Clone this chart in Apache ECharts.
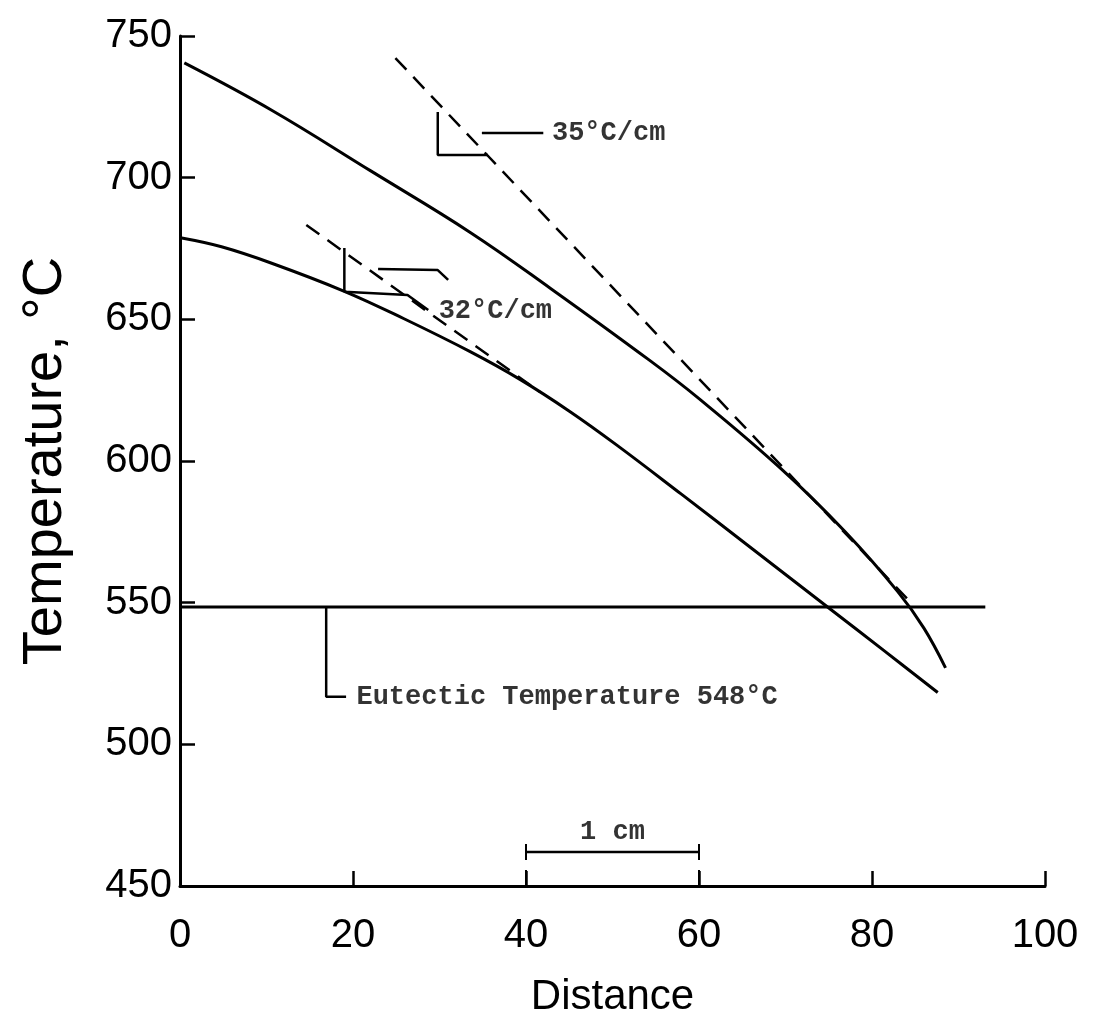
<!DOCTYPE html>
<html>
<head>
<meta charset="utf-8">
<script src="https://cdn.jsdelivr.net/npm/echarts@6/dist/echarts.min.js"></script>
<style>
  html, body { margin: 0; background: #fff; }
  #chart { width: 1104px; height: 1034px; }
</style>
</head>
<body>
<div id="chart"></div>
<script>
// curves: [distance, temperature]
const upperCurve = [[0.5, 740.5], [10.6, 723.8], [22.1, 702.3], [33.6, 680.6], [42.8, 661.0], [54.3, 635.5], [60.0, 622.0], [69.5, 597.2], [76.9, 575.0], [83.0, 553.8], [86.0, 541.0], [88.5, 527]];
const lowerCurve = [[0.2, 678.7], [4.8, 675.6], [10.6, 669.8], [19.0, 659.9], [25.9, 650.2], [33.6, 638.5], [39.3, 628.8], [45.1, 617.4], [50.5, 605.6], [58.0, 588.2], [65.7, 570.1], [74.9, 548.4], [81.5, 532.8], [87.6, 518.3]];
const eutecticLine = [[0, 548.5], [93.1, 548.5]];
const tangent35 = [[24.9, 742.2], [84.5, 550]];
const tangent32 = [[14.6, 683.3], [41.6, 624.4]];

// leader lines for the notes
const note35Slope = [[29.8, 723.2], [29.8, 708.0], [35.6, 708.0]];
const note35Leader = [[34.9, 715.8], [42.0, 715.8]];
const note32Slope = [[19.0, 675.2], [19.0, 659.7], [26.3, 658.6], [28.7, 653.3]];
const note32Leader = [[22.9, 667.8], [29.8, 667.4], [31.0, 663.9]];
const eutecticLeader = [[16.9, 548.5], [16.9, 516.8], [19.2, 516.8]];
const scaleBar = [[40, 462], [60, 462]];
const scaleLeft = [[40, 450], [40, 467]];
const scaleRight = [[60, 450], [60, 467]];

const notes = [
  [43.0, 715.8, '35°C/cm'],
  [29.9, 653.0, '32°C/cm'],
  [20.4, 516.8, 'Eutectic Temperature 548°C']
];
const scaleNote = [[50, 462, '1 cm']];

const xTicks = [0, 20, 40, 60, 80, 100];
const yTicks = [450, 500, 550, 600, 650, 700, 750];

const chart = echarts.init(document.getElementById('chart'));

const solid = (data, width) => ({
  type: 'line', data: data, symbol: 'none', silent: true,
  lineStyle: { color: '#000', width: width }
});
const dashed = (data, width) => ({
  type: 'line', data: data, symbol: 'none', silent: true,
  lineStyle: { color: '#000', width: width, type: [16, 10] }
});

const noteFont = { fontFamily: 'Liberation Mono', fontWeight: 'bold', fontSize: 27, color: '#000' };

chart.setOption({
  animation: false,
  backgroundColor: '#fff',
  grid: { left: 180, right: 59, top: 36, bottom: 148 },
  xAxis: {
    type: 'value', min: xTicks[0], max: xTicks[xTicks.length - 1], interval: 20,
    name: 'Distance', nameLocation: 'middle', nameGap: 90,
    nameTextStyle: { fontFamily: 'Liberation Sans', fontSize: 42, color: '#000' },
    axisLine: { lineStyle: { color: '#000', width: 3 } },
    axisTick: { inside: true, length: 15, lineStyle: { color: '#000', width: 2.5 } },
    axisLabel: { fontFamily: 'Liberation Sans', fontSize: 40, color: '#000', margin: 30 },
    splitLine: { show: false }
  },
  yAxis: {
    type: 'value', min: yTicks[0], max: yTicks[yTicks.length - 1], interval: 50,
    name: 'Temperature, °C', nameLocation: 'middle', nameGap: 106, nameRotate: 90,
    nameTextStyle: { fontFamily: 'Liberation Sans', fontSize: 56, color: '#000' },
    axisLine: { show: true, lineStyle: { color: '#000', width: 3 } },
    axisTick: { show: true, inside: true, length: 15, lineStyle: { color: '#000', width: 2.5 } },
    axisLabel: { fontFamily: 'Liberation Sans', fontSize: 40, color: '#000', margin: 8 },
    splitLine: { show: false }
  },
  series: [
    Object.assign(solid(upperCurve, 3), { smooth: 0.4 }),
    Object.assign(solid(lowerCurve, 3), { smooth: 0.4 }),
    solid(eutecticLine, 3),
    dashed(tangent35, 2.5),
    dashed(tangent32, 2.5),
    solid(note35Slope, 2.5),
    solid(note35Leader, 2.5),
    solid(note32Slope, 2.5),
    solid(note32Leader, 2.5),
    solid(eutecticLeader, 2.5),
    solid(scaleBar, 2.5),
    dashed(scaleLeft, 2),
    dashed(scaleRight, 2),
    {
      type: 'scatter', data: notes, symbolSize: 0, silent: true,
      label: Object.assign({ show: true, position: 'right', distance: 0, formatter: p => p.data[2] }, noteFont)
    },
    {
      type: 'scatter', data: scaleNote, symbolSize: 0, silent: true,
      label: Object.assign({ show: true, position: 'top', distance: 6, formatter: p => p.data[2] }, noteFont)
    }
  ]
});
</script>
</body>
</html>
